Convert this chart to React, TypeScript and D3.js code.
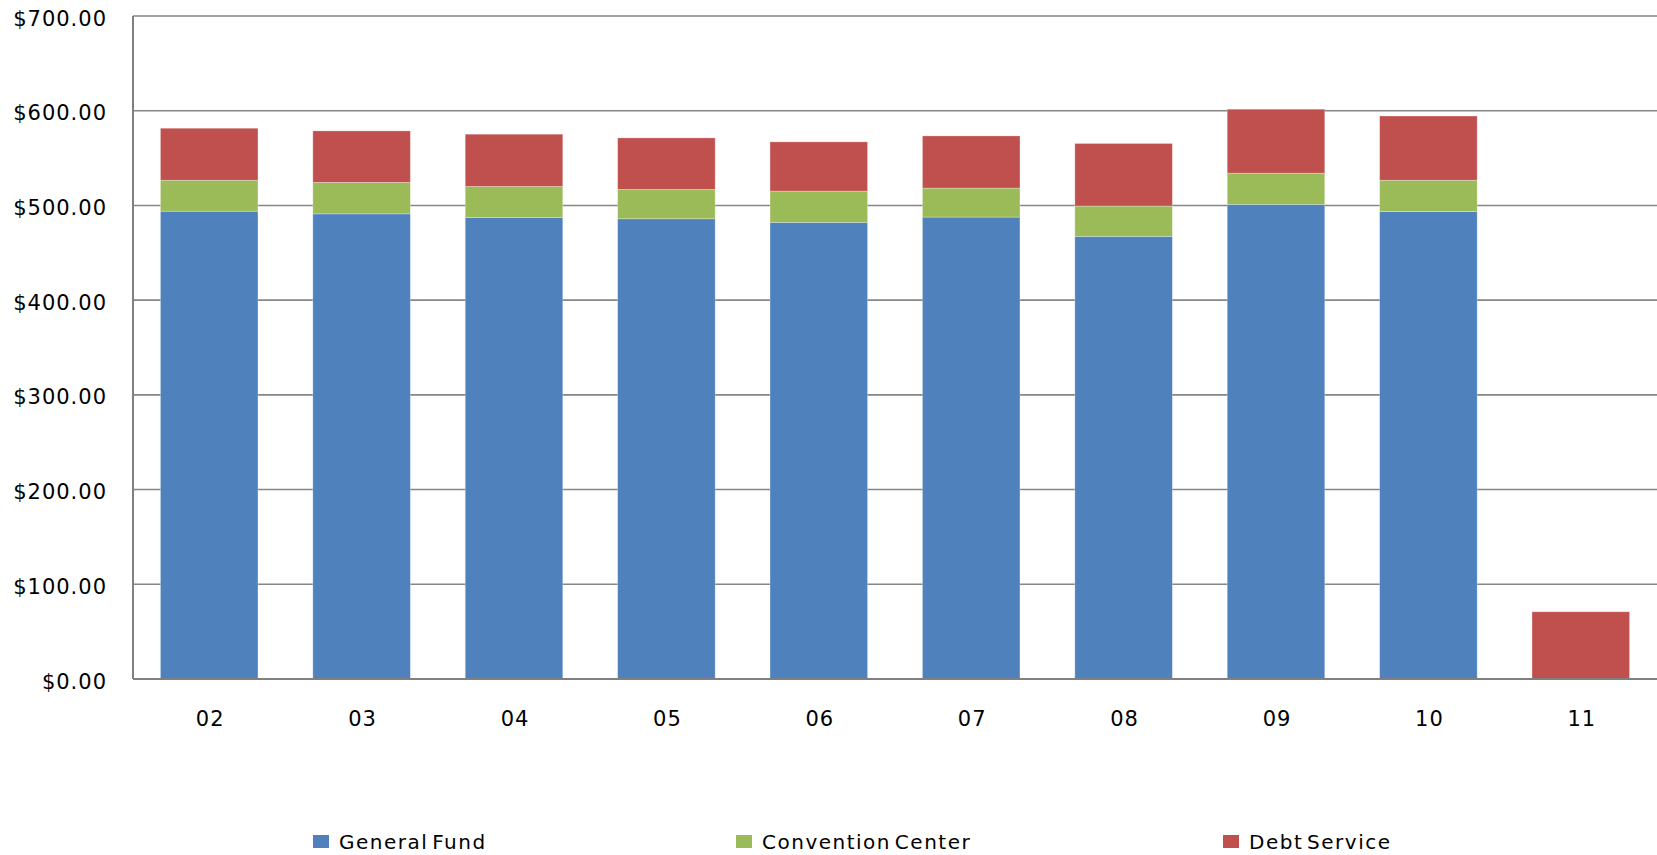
import React from "react";
import * as d3 from "d3";

// Fiscal years (two-digit) along the x axis
const years = ["02", "03", "04", "05", "06", "07", "08", "09", "10", "11"];

// Amounts per fund, in dollars
const generalFund = [493.9, 491.1, 487.3, 485.9, 482.1, 487.7, 467.3, 501.1, 493.5, 0];
const conventionCenter = [32.7, 33.2, 32.7, 31.0, 33.0, 30.6, 32.0, 33.0, 33.1, 0];
const debtService = [54.9, 54.4, 55.2, 54.4, 52.0, 55.1, 66.1, 67.5, 67.8, 71.0];

const seriesNames = ["General Fund", "Convention Center", "Debt Service"];
const seriesKeys = ["gf", "cc", "ds"];
const seriesColors = ["#4F81BD", "#9BBB59", "#C0504D"];

const yTicks = [0, 100, 200, 300, 400, 500, 600, 700];

const W = 1657;
const H = 855;
const LEFT = 133;
const RIGHT = 1657;
const TOP = 16;
const BOTTOM = 679;

export default function App() {
  const rows = years.map((y, i) => ({
    year: y,
    gf: generalFund[i],
    cc: conventionCenter[i],
    ds: debtService[i],
  }));

  const x = d3.scaleBand<string>().domain(years).range([LEFT, RIGHT]).paddingInner(0.36).paddingOuter(0.18);
  const y = d3.scaleLinear().domain([0, 700]).range([BOTTOM, TOP]);
  const stacked = d3.stack<any>().keys(seriesKeys)(rows);
  const fmt = d3.format("$,.2f");

  const legendX = [313, 736, 1223];

  return (
    <svg
      width={W}
      height={H}
      style={{ position: "fixed", left: 0, top: 0, background: "#fff" }}
    >
      {/* horizontal gridlines */}
      {yTicks.map((t) => (
        <line
          key={"g" + t}
          x1={LEFT}
          x2={RIGHT}
          y1={y(t)}
          y2={y(t)}
          stroke="#868686"
          strokeWidth={1.6}
        />
      ))}

      {/* stacked bars */}
      {stacked.map((layer, si) =>
        layer.map((d, i) => {
          const h = y(d[0]) - y(d[1]);
          if (h <= 0) return null;
          return (
            <rect
              key={si + "-" + i}
              x={x(years[i])!}
              y={y(d[1])}
              width={x.bandwidth()}
              height={h}
              fill={seriesColors[si]}
              stroke="#ffffff"
              strokeOpacity={0.35}
              strokeWidth={0.8}
            />
          );
        })
      )}

      {/* axes */}
      <line x1={LEFT} x2={LEFT} y1={TOP} y2={BOTTOM} stroke="#808080" strokeWidth={2} />
      <line x1={LEFT} x2={LEFT + (RIGHT - LEFT)} y1={BOTTOM} y2={BOTTOM} stroke="#808080" strokeWidth={2} />

      {/* y tick labels */}
      {yTicks.map((t) => (
        <text
          key={"t" + t}
          x={107}
          y={y(t) + 9.5}
          textAnchor="end"
          fontFamily="DejaVu Sans"
          fontSize={21}
          letterSpacing={1}
          fill="#000"
        >
          {fmt(t)}
        </text>
      ))}

      {/* x tick labels */}
      {years.map((yr) => (
        <text
          key={"x" + yr}
          x={x(yr)! + x.bandwidth() / 2 + 1}
          y={725.5}
          textAnchor="middle"
          fontFamily="DejaVu Sans"
          fontSize={21}
          letterSpacing={1}
          fill="#000"
        >
          {yr}
        </text>
      ))}

      {/* legend */}
      {seriesNames.map((name, i) => (
        <g key={name}>
          <rect x={legendX[i]} y={835} width={16} height={13} fill={seriesColors[i]} />
          <text
            x={legendX[i] + 26}
            y={849}
            fontFamily="DejaVu Sans"
            fontSize={20}
            letterSpacing={1.5}
            wordSpacing={-4}
            fill="#000"
          >
            {name}
          </text>
        </g>
      ))}
    </svg>
  );
}
